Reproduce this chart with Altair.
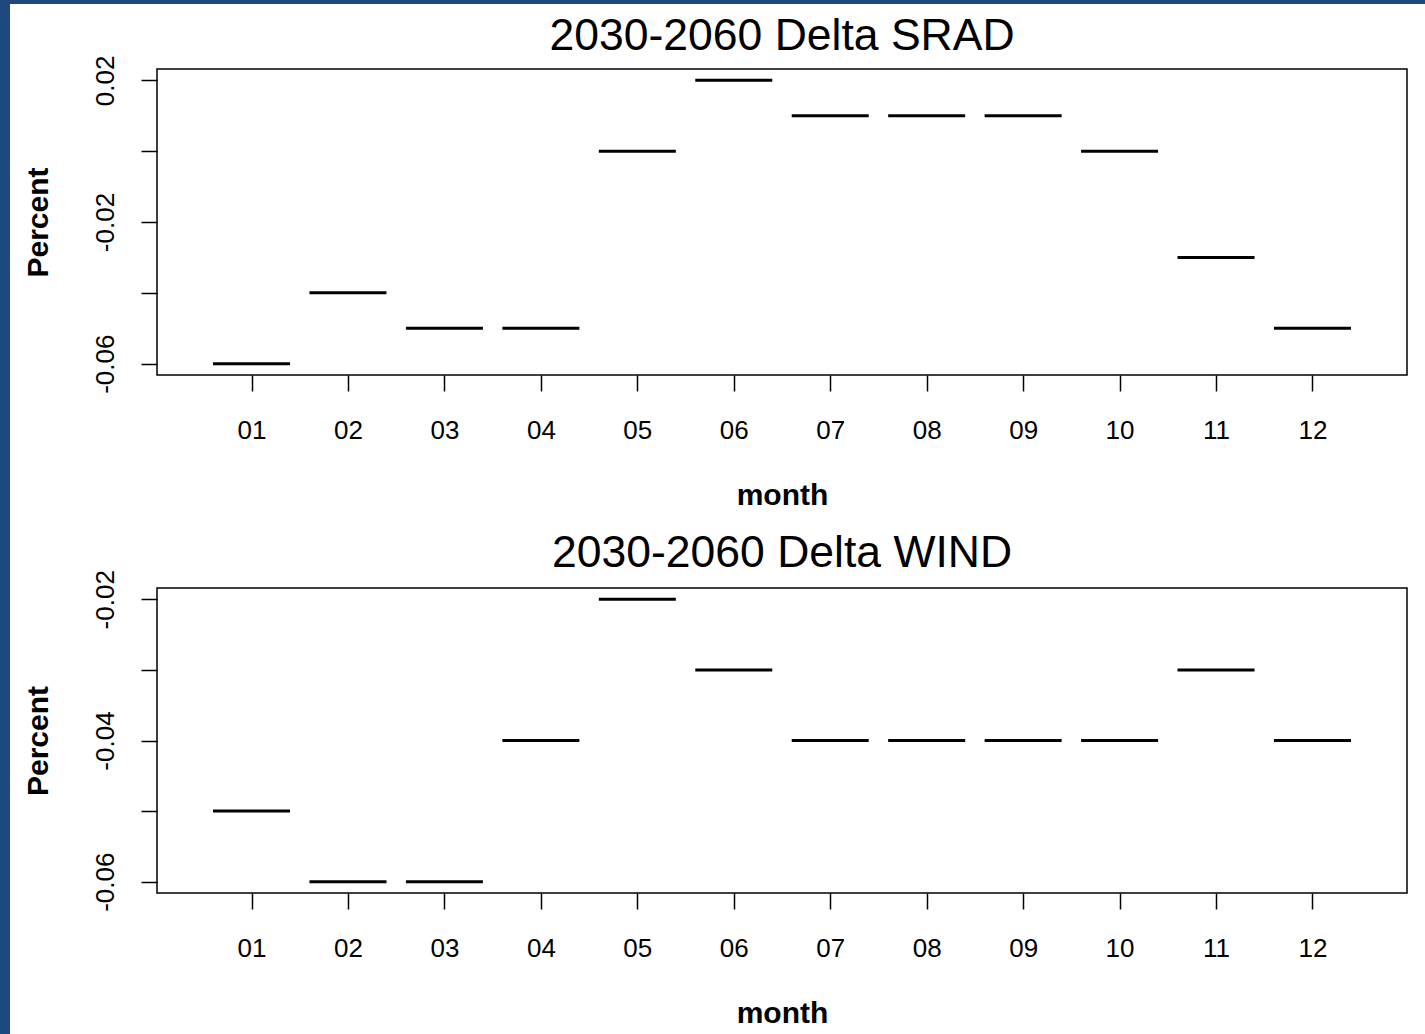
import json
import altair as alt
import pandas as pd

# ---- data ----
months = ["01", "02", "03", "04", "05", "06", "07", "08", "09", "10", "11", "12"]
srad = [-0.06, -0.04, -0.05, -0.05, 0.00, 0.02, 0.01, 0.01, 0.01, 0.00, -0.03, -0.05]
wind = [-0.05, -0.06, -0.06, -0.04, -0.02, -0.03, -0.04, -0.04, -0.04, -0.04, -0.03, -0.04]
titles = ["2030-2060 Delta SRAD", "2030-2060 Delta WIND"]
srad_domain = [-0.0632, 0.0232]
wind_domain = [-0.0616, -0.0184]
srad_ticks = [-0.06, -0.04, -0.02, 0.0, 0.02]
srad_labels = ["-0.06", "", "-0.02", "", "0.02"]
wind_ticks = [-0.06, -0.05, -0.04, -0.03, -0.02]
wind_labels = ["-0.06", "", "-0.04", "", "-0.02"]
x_title = "month"
y_title = "Percent"

TICK_FONT = "Liberation Sans"
TEXT_FONT = "Liberation Sans"
PLOT_W = 1250


def panel(values, title, domain, ticks, labels, height, title_offset):
    df = pd.DataFrame({"month": months, "value": values})
    expr = f"{json.dumps(labels)}[indexof({json.dumps(ticks)}, datum.value)]"
    return (
        alt.Chart(df)
        .mark_tick(color="black", thickness=3, size=77, opacity=1)
        .encode(
            x=alt.X(
                "month:N",
                sort=months,
                scale=alt.Scale(type="point", padding=0.98),
                axis=alt.Axis(
                    title=x_title,
                    labelAngle=0,
                    labelFont=TICK_FONT,
                    labelFontSize=26,
                    labelColor="black",
                    labelBaseline="alphabetic",
                    labelPadding=47,
                    labelOverlap=False,
                    labelFlush=False,
                    tickSize=16,
                    tickColor="black",
                    tickWidth=1.5,
                    domain=False,
                    grid=False,
                    titleFont=TEXT_FONT,
                    titleFontSize=30,
                    titleFontWeight="bold",
                    titleColor="black",
                    titleBaseline="alphabetic",
                    titleAlign="center",
                    titleX=PLOT_W / 2,
                    titleY=129,
                ),
            ),
            y=alt.Y(
                "value:Q",
                scale=alt.Scale(domain=domain, nice=False, zero=False),
                axis=alt.Axis(
                    title=y_title,
                    values=ticks,
                    labelExpr=expr,
                    labelAngle=270,
                    labelAlign="center",
                    labelBaseline="alphabetic",
                    labelPadding=28,
                    labelFont=TICK_FONT,
                    labelFontSize=26,
                    labelColor="black",
                    labelOverlap=False,
                    labelFlush=False,
                    tickSize=16,
                    tickColor="black",
                    tickWidth=1.5,
                    domain=False,
                    grid=False,
                    titleFont=TEXT_FONT,
                    titleFontSize=30,
                    titleFontWeight="bold",
                    titleColor="black",
                    titleAngle=270,
                    titleAlign="center",
                    titleBaseline="alphabetic",
                    titleX=-110,
                    titleY=height / 2,
                ),
            ),
        )
        .properties(
            width=PLOT_W,
            height=height,
            title=alt.Title(
                title,
                font=TEXT_FONT,
                fontSize=44.5,
                fontWeight="normal",
                color="black",
                anchor="middle",
                frame="group",
                baseline="alphabetic",
                offset=title_offset,
                dy=48,
            ),
            view=alt.ViewBackground(stroke="black", strokeWidth=1.5, fill="white"),
        )
    )


top = panel(srad, titles[0], srad_domain, srad_ticks, srad_labels, 306, 9)
bottom = panel(wind, titles[1], wind_domain, wind_ticks, wind_labels, 305, 6)

# white page behind the panels (the blue frame shows through the padding)
page = (
    alt.Chart(pd.DataFrame({"k": [0]}))
    .mark_rect(color="white")
    .encode(x=alt.value(-147), x2=alt.value(1268), y=alt.value(0), y2=alt.value(1030))
    .properties(width=PLOT_W, height=1, view=alt.ViewBackground(strokeOpacity=0))
)

inner = alt.vconcat(top, bottom, spacing=213, bounds="flush")
chart = alt.vconcat(page, inner, spacing=64, bounds="flush").properties(
    background="#1F497D",
    padding={"left": 10, "top": 4, "right": 0, "bottom": 0},
)

chart.save("out.html", embed_options={"renderer": "svg", "actions": False})
